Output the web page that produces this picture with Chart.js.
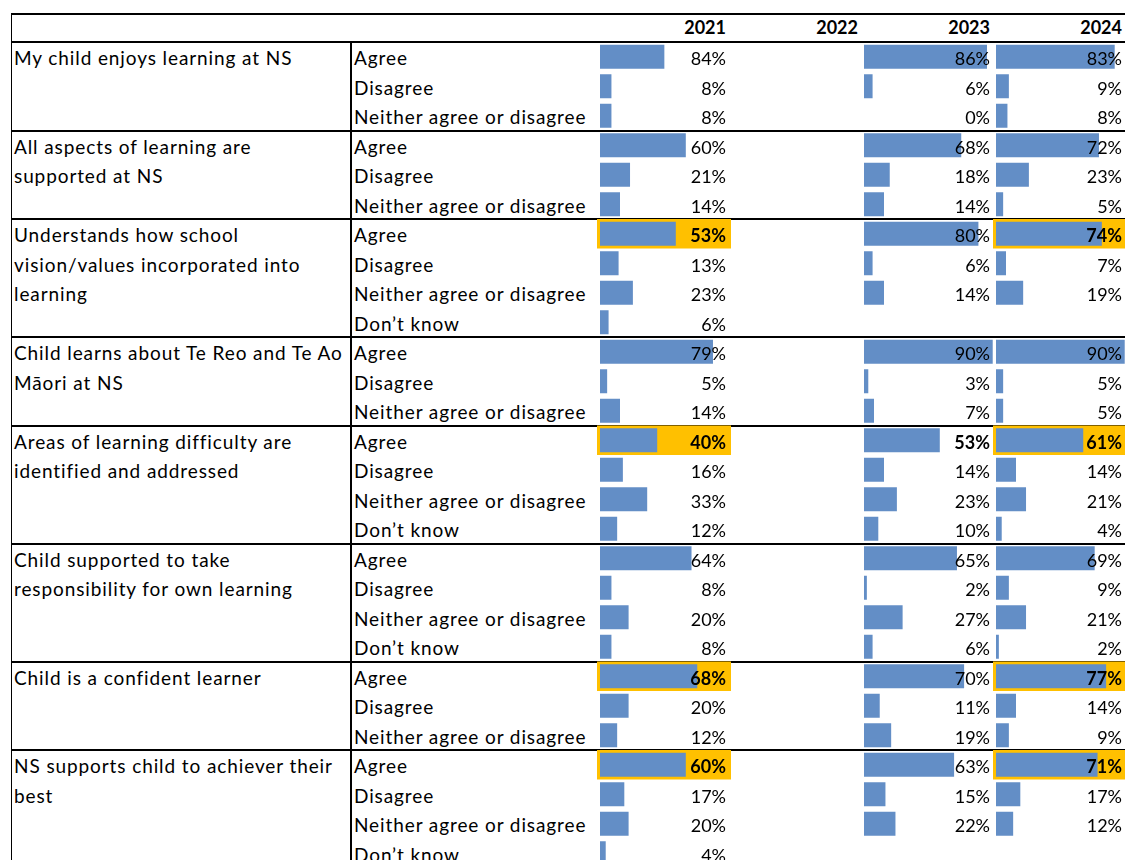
<!DOCTYPE html>
<html>
<head>
<meta charset="utf-8">
<script src="https://cdn.jsdelivr.net/npm/chart.js@4.4.1/dist/chart.umd.min.js"></script>
<style>
  html, body { margin: 0; padding: 0; background: #fff; }
  #sheet {
    position: relative; width: 1125px; height: 860px; overflow: hidden;
    font-family: Lato, 'Liberation Sans', sans-serif; font-size: 18px; color: #000;
  }
  .txt { position: absolute; white-space: nowrap; line-height: 29.5px; height: 29.5px; }
  .body { font-size: 19px; letter-spacing: 0.9px; }
  .head { font-weight: bold; text-align: right; }
  .line { position: absolute; background: #000; }
  canvas { position: absolute; }
</style>
</head>
<body>
<div id="sheet"></div>
<script>
// ---- data ----
const years = ['2021', '2022', '2023', '2024']

const questions = [
  ['My child enjoys learning at NS'],
  ['All aspects of learning are', 'supported at NS'],
  ['Understands how school', 'vision/values incorporated into', 'learning'],
  ['Child learns about Te Reo and Te Ao', 'Māori at NS'],
  ['Areas of learning difficulty are', 'identified and addressed'],
  ['Child supported to take', 'responsibility for own learning'],
  ['Child is a confident learner'],
  ['NS supports child to achiever their', 'best'],
]

const A = 'Agree', D = 'Disagree', N = 'Neither agree or disagree', K = 'Don’t know'
const responses = [
  A, D, N,
  A, D, N,
  A, D, N, K,
  A, D, N,
  A, D, N, K,
  A, D, N, K,
  A, D, N,
  A, D, N, K,
]
const groupSizes = [3, 3, 4, 3, 4, 4, 3, 4]

// percentages shown in the cells (null = blank cell)
const pct2021 = [84, 8, 8, 60, 21, 14, 53, 13, 23, 6, 79, 5, 14, 40, 16, 33, 12, 64, 8, 20, 8, 68, 20, 12, 60, 17, 20, 4]
const pct2023 = [86, 6, 0, 68, 18, 14, 80, 6, 14, null, 90, 3, 7, 53, 14, 23, 10, 65, 2, 27, 6, 70, 11, 19, 63, 15, 22, null]
const pct2024 = [83, 9, 8, 72, 23, 5, 74, 7, 19, null, 90, 5, 5, 61, 14, 21, 4, 69, 9, 21, 2, 77, 14, 9, 71, 17, 12, null]

// data bar lengths as drawn (the first 2021 bar is shorter than its label)
const bar2021 = [45, 8, 8, 60, 21, 14, 53, 13, 23, 6, 79, 5, 14, 40, 16, 33, 12, 64, 8, 20, 8, 68, 20, 12, 60, 17, 20, 4]

// row indexes of the highlighted (orange, bold) cells and bold-only cells
const highlight2021 = [6, 13, 21, 24]
const highlight2024 = [6, 13, 21, 24]
const boldOnly2023 = [13]

// ---- layout ----
const TOP = 14
const HEAD_BOTTOM = 42
const ROW_H = 29.5
const LEFT = 11
const SEP = 350
const COL_LEFT = [597, 729, 861, 993]
const CELL_W = 134
const BAR_BLUE = '#638EC6'
const ORANGE = '#FFC000'

const sheet = document.getElementById('sheet')
const rowTop = i => HEAD_BOTTOM + i * ROW_H

function addText(str, left, top, cls, width) {
  const d = document.createElement('div')
  d.className = 'txt' + (cls ? ' ' + cls : '')
  d.textContent = str
  d.style.left = left + 'px'
  d.style.top = top + 'px'
  if (width) d.style.width = width + 'px'
  sheet.appendChild(d)
}

function addLine(left, top, w, h) {
  const d = document.createElement('div')
  d.className = 'line'
  d.style.left = left + 'px'
  d.style.top = top + 'px'
  d.style.width = w + 'px'
  d.style.height = h + 'px'
  sheet.appendChild(d)
}

// header
years.forEach((y, i) => addText(y, COL_LEFT[i], TOP - 1, 'head', 129))

// responses
responses.forEach((r, i) => addText(r, 354, rowTop(i) + 1, 'body'))

// questions and group borders
let start = 0
questions.forEach((lines, g) => {
  lines.forEach((l, j) => addText(l, 14, rowTop(start + j) + 1, 'body'))
  start += groupSizes[g]
  addLine(LEFT, rowTop(start) - 1, 1125 - LEFT, 2)
})

addLine(LEFT, TOP - 1, 1125 - LEFT, 2)
addLine(LEFT, HEAD_BOTTOM - 1, 1125 - LEFT, 2)
addLine(LEFT - 0.5, TOP - 1, 1.5, 860)
addLine(SEP, HEAD_BOTTOM, 1.5, 860)

// ---- data bar columns ----
const cellPlugin = {
  id: 'cellPlugin',
  beforeDatasetsDraw(chart, args, opts) {
    const { ctx } = chart
    const yScale = chart.scales.y
    ctx.save()
    ctx.fillStyle = ORANGE
    opts.highlight.forEach(i => {
      const yc = yScale.getPixelForValue(i)
      ctx.fillRect(0, yc - ROW_H / 2, chart.width, ROW_H)
    })
    ctx.restore()
  },
  afterDatasetsDraw(chart, args, opts) {
    const { ctx, chartArea } = chart
    const yScale = chart.scales.y
    ctx.save()
    ctx.fillStyle = '#000'
    ctx.textAlign = 'right'
    ctx.textBaseline = 'alphabetic'
    opts.labels.forEach((v, i) => {
      if (v === null) return
      const bold = opts.highlight.includes(i) || opts.bold.includes(i)
      ctx.font = (bold ? 'bold ' : '') + '18px Lato, "Liberation Sans", sans-serif'
      ctx.fillText(v + '%', chartArea.right - 5, yScale.getPixelForValue(i) + 8.5)
    })
    ctx.restore()
  }
}

function makeColumn(colIdx, bars, labels, highlight, bold) {
  const canvas = document.createElement('canvas')
  canvas.width = CELL_W
  canvas.height = responses.length * ROW_H
  canvas.style.left = COL_LEFT[colIdx] + 'px'
  canvas.style.top = HEAD_BOTTOM + 'px'
  sheet.appendChild(canvas)

  return new Chart(canvas, {
    type: 'bar',
    data: {
      labels: responses.map((r, i) => i),
      datasets: [{
        data: bars,
        backgroundColor: BAR_BLUE,
        barThickness: 24,
        borderWidth: 0,
        inflateAmount: 0,
      }]
    },
    options: {
      indexAxis: 'y',
      responsive: false,
      animation: false,
      layout: { padding: { left: 3, right: 0, top: 0, bottom: 0 } },
      scales: {
        x: { display: false, min: 0, max: 91.6 },
        y: { display: false },
      },
      plugins: {
        legend: { display: false },
        tooltip: { enabled: false },
        cellPlugin: { labels, highlight, bold },
      }
    },
    plugins: [cellPlugin]
  })
}

makeColumn(0, bar2021, pct2021, highlight2021, [])
makeColumn(2, pct2023, pct2023, [], boldOnly2023)
makeColumn(3, pct2024, pct2024, highlight2024, [])
</script>
</body>
</html>
